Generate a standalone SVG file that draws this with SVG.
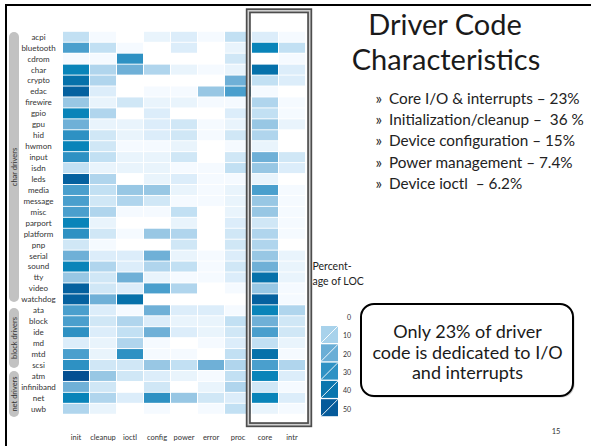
<svg xmlns="http://www.w3.org/2000/svg" width="591" height="446" viewBox="0 0 591 446">
<style>
  text{font-family:Lato,"Open Sans","DejaVu Sans",sans-serif}
  .rl{font-size:8px;fill:#333;text-anchor:middle}
  .cl{font-size:7.5px;fill:#333;text-anchor:middle}
  .grp{font-size:7.5px;fill:#333;text-anchor:middle}
  .pill{fill:#c2c2c2}
  .l1{fill:#f5faff}.l2{fill:#e9f4fc}.l3{fill:#dcedfa}.l4{fill:#d0e7f6}
  .l5{fill:#c2e0f3}.l6{fill:#b0d5ed}.l7{fill:#98c7e4}.l8{fill:#6fb0d7}
  .l9{fill:#4a9fcd}.l10{fill:#2e91c3}.l11{fill:#0984b9}.l12{fill:#0671aa}
  .l13{fill:#05619f}.l14{fill:#044f92}
  .title{font-size:29px;fill:#1a1a1a;text-anchor:middle}
  .bul{font-size:15.3px;fill:#222}
  .call{font-size:18px;fill:#1a1a1a;text-anchor:middle}
  .leg{font-size:7px;fill:#333;text-anchor:end}
</style>
<defs>
  <rect id="c" width="26" height="10"/>
</defs>
<rect width="591" height="446" fill="#fff"/>
<!-- slide edge -->
<g id="slide-border" stroke="#000" stroke-width="2" fill="none">
  <line x1="5" y1="5" x2="591" y2="5"/>
  <line x1="6" y1="4" x2="6" y2="446"/>
</g>

<!-- driver class brackets -->
<g id="group-char">
  <rect class="pill" x="9" y="32" width="10" height="270" rx="5"/>
  <text class="grp" transform="translate(16.5,167) rotate(-90)">char drivers</text>
</g>
<g id="group-block">
  <rect class="pill" x="9" y="308" width="10" height="60" rx="5"/>
  <text class="grp" transform="translate(16.5,338) rotate(-90)">block drivers</text>
</g>
<g id="group-net">
  <rect class="pill" x="9" y="371" width="10" height="46" rx="5"/>
  <text class="grp" transform="translate(16.5,394) rotate(-90)">net drivers</text>
</g>

<!-- heat map rows: columns init, cleanup, ioctl, config, power, error, proc, core, intr -->
<g id="heatmap">
<g id="row-acpi" transform="translate(0,31.8)"><text class="rl" x="38.5" y="7.9">acpi</text><use href="#c" class="l5" x="63"/><use href="#c" class="l1" x="90"/><use href="#c" class="l2" x="144"/><use href="#c" class="l3" x="171"/><use href="#c" class="l1" x="198"/><use href="#c" class="l5" x="225"/><use href="#c" class="l3" x="252"/><use href="#c" class="l1" x="279"/></g>
<g id="row-bluetooth" transform="translate(0,42.74)"><text class="rl" x="38.5" y="7.9">bluetooth</text><use href="#c" class="l9" x="63"/><use href="#c" class="l5" x="90"/><use href="#c" class="l1" x="117"/><use href="#c" class="l3" x="171"/><use href="#c" class="l2" x="225"/><use href="#c" class="l11" x="252"/><use href="#c" class="l5" x="279"/></g>
<g id="row-cdrom" transform="translate(0,53.68)"><text class="rl" x="38.5" y="7.9">cdrom</text><use href="#c" class="l1" x="63"/><use href="#c" class="l1" x="90"/><use href="#c" class="l10" x="117"/><use href="#c" class="l4" x="225"/><use href="#c" class="l1" x="279"/></g>
<g id="row-char" transform="translate(0,64.62)"><text class="rl" x="38.5" y="7.9">char</text><use href="#c" class="l11" x="63"/><use href="#c" class="l6" x="90"/><use href="#c" class="l8" x="117"/><use href="#c" class="l6" x="144"/><use href="#c" class="l2" x="171"/><use href="#c" class="l1" x="198"/><use href="#c" class="l2" x="225"/><use href="#c" class="l12" x="252"/><use href="#c" class="l3" x="279"/></g>
<g id="row-crypto" transform="translate(0,75.56)"><text class="rl" x="38.5" y="7.9">crypto</text><use href="#c" class="l12" x="63"/><use href="#c" class="l6" x="90"/><use href="#c" class="l8" x="225"/><use href="#c" class="l5" x="252"/><use href="#c" class="l3" x="279"/></g>
<g id="row-edac" transform="translate(0,86.5)"><text class="rl" x="38.5" y="7.9">edac</text><use href="#c" class="l13" x="63"/><use href="#c" class="l3" x="90"/><use href="#c" class="l1" x="144"/><use href="#c" class="l1" x="171"/><use href="#c" class="l7" x="198"/><use href="#c" class="l9" x="225"/><use href="#c" class="l1" x="252"/></g>
<g id="row-firewire" transform="translate(0,97.44)"><text class="rl" x="38.5" y="7.9">firewire</text><use href="#c" class="l7" x="63"/><use href="#c" class="l2" x="90"/><use href="#c" class="l4" x="117"/><use href="#c" class="l2" x="144"/><use href="#c" class="l2" x="171"/><use href="#c" class="l1" x="198"/><use href="#c" class="l1" x="225"/><use href="#c" class="l6" x="252"/><use href="#c" class="l1" x="279"/></g>
<g id="row-gpio" transform="translate(0,108.38)"><text class="rl" x="38.5" y="7.9">gpio</text><use href="#c" class="l11" x="63"/><use href="#c" class="l6" x="90"/><use href="#c" class="l3" x="144"/><use href="#c" class="l3" x="225"/><use href="#c" class="l5" x="252"/><use href="#c" class="l1" x="279"/></g>
<g id="row-gpu" transform="translate(0,119.32)"><text class="rl" x="38.5" y="7.9">gpu</text><use href="#c" class="l8" x="63"/><use href="#c" class="l2" x="90"/><use href="#c" class="l2" x="117"/><use href="#c" class="l3" x="144"/><use href="#c" class="l4" x="171"/><use href="#c" class="l1" x="198"/><use href="#c" class="l2" x="225"/><use href="#c" class="l7" x="252"/><use href="#c" class="l2" x="279"/></g>
<g id="row-hid" transform="translate(0,130.26)"><text class="rl" x="38.5" y="7.9">hid</text><use href="#c" class="l10" x="63"/><use href="#c" class="l4" x="90"/><use href="#c" class="l2" x="117"/><use href="#c" class="l3" x="144"/><use href="#c" class="l4" x="171"/><use href="#c" class="l1" x="198"/><use href="#c" class="l4" x="225"/><use href="#c" class="l6" x="252"/></g>
<g id="row-hwmon" transform="translate(0,141.2)"><text class="rl" x="38.5" y="7.9">hwmon</text><use href="#c" class="l11" x="63"/><use href="#c" class="l4" x="90"/><use href="#c" class="l1" x="117"/><use href="#c" class="l1" x="144"/><use href="#c" class="l2" x="171"/><use href="#c" class="l1" x="225"/><use href="#c" class="l2" x="252"/></g>
<g id="row-input" transform="translate(0,152.14)"><text class="rl" x="38.5" y="7.9">input</text><use href="#c" class="l10" x="63"/><use href="#c" class="l5" x="90"/><use href="#c" class="l2" x="117"/><use href="#c" class="l2" x="144"/><use href="#c" class="l4" x="171"/><use href="#c" class="l4" x="225"/><use href="#c" class="l8" x="252"/><use href="#c" class="l4" x="279"/></g>
<g id="row-isdn" transform="translate(0,163.08)"><text class="rl" x="38.5" y="7.9">isdn</text><use href="#c" class="l5" x="63"/><use href="#c" class="l2" x="90"/><use href="#c" class="l2" x="117"/><use href="#c" class="l2" x="144"/><use href="#c" class="l1" x="171"/><use href="#c" class="l1" x="198"/><use href="#c" class="l5" x="225"/><use href="#c" class="l7" x="252"/><use href="#c" class="l3" x="279"/></g>
<g id="row-leds" transform="translate(0,174.02)"><text class="rl" x="38.5" y="7.9">leds</text><use href="#c" class="l13" x="63"/><use href="#c" class="l6" x="90"/><use href="#c" class="l2" x="144"/><use href="#c" class="l3" x="171"/><use href="#c" class="l1" x="198"/><use href="#c" class="l1" x="225"/><use href="#c" class="l2" x="252"/></g>
<g id="row-media" transform="translate(0,184.96)"><text class="rl" x="38.5" y="7.9">media</text><use href="#c" class="l9" x="63"/><use href="#c" class="l5" x="90"/><use href="#c" class="l7" x="117"/><use href="#c" class="l7" x="144"/><use href="#c" class="l2" x="171"/><use href="#c" class="l1" x="198"/><use href="#c" class="l2" x="225"/><use href="#c" class="l9" x="252"/><use href="#c" class="l1" x="279"/></g>
<g id="row-message" transform="translate(0,195.9)"><text class="rl" x="38.5" y="7.9">message</text><use href="#c" class="l9" x="63"/><use href="#c" class="l4" x="90"/><use href="#c" class="l6" x="117"/><use href="#c" class="l4" x="144"/><use href="#c" class="l1" x="171"/><use href="#c" class="l1" x="198"/><use href="#c" class="l2" x="225"/><use href="#c" class="l7" x="252"/><use href="#c" class="l1" x="279"/></g>
<g id="row-misc" transform="translate(0,206.84)"><text class="rl" x="38.5" y="7.9">misc</text><use href="#c" class="l9" x="63"/><use href="#c" class="l6" x="90"/><use href="#c" class="l1" x="117"/><use href="#c" class="l1" x="144"/><use href="#c" class="l5" x="171"/><use href="#c" class="l2" x="225"/><use href="#c" class="l7" x="252"/><use href="#c" class="l1" x="279"/></g>
<g id="row-parport" transform="translate(0,217.78)"><text class="rl" x="38.5" y="7.9">parport</text><use href="#c" class="l11" x="63"/><use href="#c" class="l2" x="90"/><use href="#c" class="l2" x="171"/><use href="#c" class="l3" x="225"/><use href="#c" class="l4" x="252"/><use href="#c" class="l1" x="279"/></g>
<g id="row-platform" transform="translate(0,228.72)"><text class="rl" x="38.5" y="7.9">platform</text><use href="#c" class="l10" x="63"/><use href="#c" class="l4" x="90"/><use href="#c" class="l1" x="117"/><use href="#c" class="l7" x="144"/><use href="#c" class="l6" x="171"/><use href="#c" class="l4" x="225"/><use href="#c" class="l6" x="252"/><use href="#c" class="l1" x="279"/></g>
<g id="row-pnp" transform="translate(0,239.66)"><text class="rl" x="38.5" y="7.9">pnp</text><use href="#c" class="l4" x="63"/><use href="#c" class="l1" x="90"/><use href="#c" class="l4" x="171"/><use href="#c" class="l4" x="225"/><use href="#c" class="l6" x="252"/></g>
<g id="row-serial" transform="translate(0,250.6)"><text class="rl" x="38.5" y="7.9">serial</text><use href="#c" class="l8" x="63"/><use href="#c" class="l3" x="90"/><use href="#c" class="l3" x="117"/><use href="#c" class="l8" x="144"/><use href="#c" class="l2" x="171"/><use href="#c" class="l1" x="198"/><use href="#c" class="l3" x="225"/><use href="#c" class="l7" x="252"/><use href="#c" class="l2" x="279"/></g>
<g id="row-sound" transform="translate(0,261.54)"><text class="rl" x="38.5" y="7.9">sound</text><use href="#c" class="l11" x="63"/><use href="#c" class="l6" x="90"/><use href="#c" class="l3" x="117"/><use href="#c" class="l6" x="144"/><use href="#c" class="l5" x="171"/><use href="#c" class="l1" x="198"/><use href="#c" class="l4" x="225"/><use href="#c" class="l8" x="252"/><use href="#c" class="l2" x="279"/></g>
<g id="row-tty" transform="translate(0,272.48)"><text class="rl" x="38.5" y="7.9">tty</text><use href="#c" class="l7" x="63"/><use href="#c" class="l4" x="90"/><use href="#c" class="l8" x="117"/><use href="#c" class="l2" x="144"/><use href="#c" class="l1" x="171"/><use href="#c" class="l1" x="198"/><use href="#c" class="l3" x="225"/><use href="#c" class="l12" x="252"/><use href="#c" class="l2" x="279"/></g>
<g id="row-video" transform="translate(0,283.42)"><text class="rl" x="38.5" y="7.9">video</text><use href="#c" class="l13" x="63"/><use href="#c" class="l4" x="90"/><use href="#c" class="l3" x="117"/><use href="#c" class="l9" x="144"/><use href="#c" class="l6" x="171"/><use href="#c" class="l1" x="225"/><use href="#c" class="l7" x="252"/><use href="#c" class="l1" x="279"/></g>
<g id="row-watchdog" transform="translate(0,294.36)"><text class="rl" x="38.5" y="7.9">watchdog</text><use href="#c" class="l13" x="63"/><use href="#c" class="l8" x="90"/><use href="#c" class="l12" x="117"/><use href="#c" class="l13" x="252"/><use href="#c" class="l1" x="279"/></g>
<g id="row-ata" transform="translate(0,305.3)"><text class="rl" x="38.5" y="7.9">ata</text><use href="#c" class="l9" x="63"/><use href="#c" class="l3" x="90"/><use href="#c" class="l1" x="117"/><use href="#c" class="l8" x="144"/><use href="#c" class="l3" x="171"/><use href="#c" class="l3" x="198"/><use href="#c" class="l1" x="225"/><use href="#c" class="l11" x="252"/><use href="#c" class="l6" x="279"/></g>
<g id="row-block" transform="translate(0,316.24)"><text class="rl" x="38.5" y="7.9">block</text><use href="#c" class="l9" x="63"/><use href="#c" class="l4" x="90"/><use href="#c" class="l6" x="117"/><use href="#c" class="l3" x="144"/><use href="#c" class="l2" x="171"/><use href="#c" class="l2" x="198"/><use href="#c" class="l5" x="225"/><use href="#c" class="l8" x="252"/><use href="#c" class="l4" x="279"/></g>
<g id="row-ide" transform="translate(0,327.18)"><text class="rl" x="38.5" y="7.9">ide</text><use href="#c" class="l10" x="63"/><use href="#c" class="l3" x="90"/><use href="#c" class="l5" x="117"/><use href="#c" class="l8" x="144"/><use href="#c" class="l3" x="171"/><use href="#c" class="l2" x="198"/><use href="#c" class="l4" x="225"/><use href="#c" class="l9" x="252"/><use href="#c" class="l4" x="279"/></g>
<g id="row-md" transform="translate(0,338.12)"><text class="rl" x="38.5" y="7.9">md</text><use href="#c" class="l3" x="63"/><use href="#c" class="l2" x="90"/><use href="#c" class="l6" x="117"/><use href="#c" class="l1" x="144"/><use href="#c" class="l1" x="198"/><use href="#c" class="l3" x="225"/><use href="#c" class="l5" x="252"/><use href="#c" class="l2" x="279"/></g>
<g id="row-mtd" transform="translate(0,349.06)"><text class="rl" x="38.5" y="7.9">mtd</text><use href="#c" class="l9" x="63"/><use href="#c" class="l2" x="90"/><use href="#c" class="l10" x="117"/><use href="#c" class="l1" x="144"/><use href="#c" class="l1" x="171"/><use href="#c" class="l5" x="225"/><use href="#c" class="l12" x="252"/><use href="#c" class="l1" x="279"/></g>
<g id="row-scsi" transform="translate(0,360)"><text class="rl" x="38.5" y="7.9">scsi</text><use href="#c" class="l10" x="63"/><use href="#c" class="l4" x="90"/><use href="#c" class="l4" x="117"/><use href="#c" class="l7" x="144"/><use href="#c" class="l5" x="171"/><use href="#c" class="l8" x="198"/><use href="#c" class="l6" x="225"/><use href="#c" class="l9" x="252"/><use href="#c" class="l6" x="279"/></g>
<g id="row-atm" transform="translate(0,370.94)"><text class="rl" x="38.5" y="7.9">atm</text><use href="#c" class="l14" x="63"/><use href="#c" class="l7" x="90"/><use href="#c" class="l4" x="117"/><use href="#c" class="l3" x="144"/><use href="#c" class="l2" x="171"/><use href="#c" class="l1" x="198"/><use href="#c" class="l5" x="225"/><use href="#c" class="l11" x="252"/><use href="#c" class="l3" x="279"/></g>
<g id="row-infiniband" transform="translate(0,381.88)"><text class="rl" x="38.5" y="7.9">infiniband</text><use href="#c" class="l8" x="63"/><use href="#c" class="l4" x="90"/><use href="#c" class="l4" x="144"/><use href="#c" class="l2" x="198"/><use href="#c" class="l6" x="225"/><use href="#c" class="l4" x="252"/><use href="#c" class="l1" x="279"/></g>
<g id="row-net" transform="translate(0,392.82)"><text class="rl" x="38.5" y="7.9">net</text><use href="#c" class="l11" x="63"/><use href="#c" class="l6" x="90"/><use href="#c" class="l3" x="117"/><use href="#c" class="l10" x="144"/><use href="#c" class="l7" x="171"/><use href="#c" class="l4" x="198"/><use href="#c" class="l3" x="225"/><use href="#c" class="l11" x="252"/><use href="#c" class="l3" x="279"/></g>
<g id="row-uwb" transform="translate(0,403.76)"><text class="rl" x="38.5" y="7.9">uwb</text><use href="#c" class="l6" x="63"/><use href="#c" class="l2" x="90"/><use href="#c" class="l1" x="144"/><use href="#c" class="l1" x="198"/><use href="#c" class="l5" x="225"/><use href="#c" class="l2" x="252"/><use href="#c" class="l1" x="279"/></g>
</g>

<!-- column headings -->
<g id="columns">
  <text class="cl" x="76" y="440">init</text>
  <text class="cl" x="103" y="440">cleanup</text>
  <text class="cl" x="130" y="440">ioctl</text>
  <text class="cl" x="157" y="440">config</text>
  <text class="cl" x="184" y="440">power</text>
  <text class="cl" x="211" y="440">error</text>
  <text class="cl" x="238" y="440">proc</text>
  <text class="cl" x="265" y="440">core</text>
  <text class="cl" x="292" y="440">intr</text>
</g>

<!-- highlight frame around core / intr -->
<g id="highlight-frame" fill="none">
  <rect x="248.3" y="10.8" width="61.4" height="413.9" stroke="#4d4d4d" stroke-width="5"/>
  <rect x="248.3" y="10.8" width="61.4" height="413.9" stroke="#cfcfcf" stroke-width="1.6"/>
</g>

<!-- legend -->
<g id="legend">
  <text x="312.5" y="269.5" style="font-size:10.5px;fill:#222">Percent-</text>
  <text x="312.5" y="284.5" style="font-size:10.5px;fill:#222">age of LOC</text>
  <g stroke="#fff" stroke-width="0.9">
    <rect x="321" y="326" width="17" height="17" fill="#a8d2eb" stroke="none"/><line x1="321" y1="343" x2="338" y2="326"/>
    <rect x="321" y="344.3" width="17" height="17" fill="#6aaed6" stroke="none"/><line x1="321" y1="361.3" x2="338" y2="344.3"/>
    <rect x="321" y="362.6" width="17" height="17" fill="#2f92c4" stroke="none"/><line x1="321" y1="379.6" x2="338" y2="362.6"/>
    <rect x="321" y="380.9" width="17" height="17" fill="#0a76ae" stroke="none"/><line x1="321" y1="397.9" x2="338" y2="380.9"/>
    <rect x="321" y="399.2" width="17" height="17" fill="#055a9a" stroke="none"/><line x1="321" y1="416.2" x2="338" y2="399.2"/>
  </g>
  <text class="leg" x="351" y="319.7">0</text>
  <text class="leg" x="351" y="338.2">10</text>
  <text class="leg" x="351" y="356.7">20</text>
  <text class="leg" x="351" y="374.7">30</text>
  <text class="leg" x="351" y="392.7">40</text>
  <text class="leg" x="351" y="411.7">50</text>
</g>

<!-- title and bullet list -->
<g id="title">
  <text class="title" x="445" y="34.5">Driver Code</text>
  <text class="title" x="446" y="69.5">Characteristics</text>
</g>
<g id="bullets">
  <text class="bul" x="375.5" y="104">»</text><text class="bul" x="389" y="104">Core I/O &amp; interrupts – 23%</text>
  <text class="bul" x="375.5" y="125.2">»</text><text class="bul" x="389" y="125.2">Initialization/cleanup – &#160;36 %</text>
  <text class="bul" x="375.5" y="146.4">»</text><text class="bul" x="389" y="146.4">Device configuration – 15%</text>
  <text class="bul" x="375.5" y="167.6">»</text><text class="bul" x="389" y="167.6">Power management – 7.4%</text>
  <text class="bul" x="375.5" y="188.8">»</text><text class="bul" x="389" y="188.8">Device ioctl &#160;– 6.2%</text>
</g>

<!-- callout -->
<g id="callout">
  <rect x="362.5" y="305.5" width="212" height="92" rx="13" fill="#999" opacity="0.5"/>
  <rect x="361" y="304" width="212" height="92" rx="13" fill="#fff" stroke="#000" stroke-width="2"/>
  <text class="call" x="467.5" y="338">Only 23% of driver</text>
  <text class="call" x="467.5" y="358.5">code is dedicated to I/O</text>
  <text class="call" x="467.5" y="379">and interrupts</text>
</g>

<text id="page-number" x="556" y="434" style="font-size:7.5px;fill:#333;text-anchor:middle">15</text>
</svg>
